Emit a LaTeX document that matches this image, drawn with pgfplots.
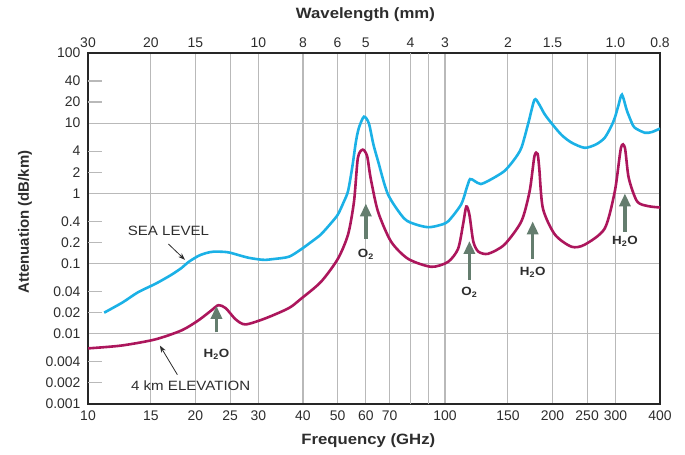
\documentclass[border=0pt]{standalone}
\usepackage{fontspec}
\setmainfont{Liberation Sans}[FakeStretch=1.12]
\newfontfamily\plainsans{Liberation Sans}
\usepackage{pgfplots}
\pgfplotsset{compat=1.18}
\usetikzlibrary{arrows.meta}
\definecolor{sea}{RGB}{27,177,230}
\definecolor{elev}{RGB}{172,22,92}
\definecolor{arr}{RGB}{100,125,110}
\definecolor{gridc}{RGB}{185,185,185}
\definecolor{txt}{RGB}{45,45,45}

\begin{document}
\begin{tikzpicture}
\begin{axis}[name=main,
  width=572bp, height=351bp, scale only axis,
  xmode=log, ymode=log,
  xmin=10, xmax=400, ymin=0.001, ymax=100,
  axis line style={line width=2.2bp, black!85},
  xtick={10,15,20,25,30,40,50,60,70,100,150,200,250,300,400},
  xticklabels={10,15,20,25,30,40,50,60,70,100,150,200,250,300,400},
  extra x ticks={80,90}, extra x tick labels={},
  ytick={0.001,0.01,0.1,1,10,100},
  yticklabels={0.001,0.01,0.1,1,10,100},
  extra y ticks={0.002,0.004,0.02,0.04,0.2,0.4,2,4,20,40},
  extra y tick labels={0.002,0.004,0.02,0.04,0.2,0.4,2,4,20,40},
  extra y tick style={grid=none, major tick length=14bp,
    tick style={gridc, line width=1.2bp}},
  xminorticks=false, yminorticks=false,
  grid=major, grid style={gridc, line width=1.1bp},
  xtick pos=bottom, ytick pos=left, tick align=inside,
  major tick length=0pt,
  tick label style={font=\plainsans\fontsize{14}{16}\selectfont, text=txt},
  xticklabel style={yshift=-3bp},
  yticklabel style={xshift=-4bp},
  every axis x label/.style={at={(axis description cs:0.49,-0.103)}, anchor=center,
    font=\fontsize{15}{17}\selectfont\bfseries, text=txt},
  every axis y label/.style={at={(axis description cs:-0.110,0.5185)}, rotate=90, anchor=center,
    font=\plainsans\fontsize{15}{17}\selectfont\bfseries, text=txt},
  xlabel={Frequency (GHz)},
  ylabel={Attenuation (dB/km)},
]
% sea level
\addplot[sea, line width=2.6bp, smooth, tension=0.45] coordinates {
(11.1,0.020) (12.5,0.028) (13.8,0.039) (15.5,0.052) (17.1,0.069) (18.3,0.087)
(19.1,0.105) (20.4,0.129) (21.5,0.142) (22.5,0.148) (24,0.147) (25,0.143)
(27,0.128) (28.2,0.121) (30,0.115) (31.4,0.113) (33,0.116) (36.5,0.125)
(39.4,0.158) (42,0.20) (44.9,0.26) (48,0.38) (50.1,0.50) (52,0.75) (53.5,1.08)
(55,2.4) (56.3,5.5) (57.4,8.65) (59.3,12.4) (61.2,9.9) (63,5.0) (64.9,2.9)
(69.2,0.97) (76.8,0.44) (83,0.36) (89.7,0.33) (96,0.35) (102,0.40) (111,0.70)
(115,1.2) (117.5,1.6) (121,1.5) (126,1.36) (135,1.6) (146.6,2.08) (156,3.0)
(163.6,4.46) (171,9.9) (178,21.5) (183,19) (190,13.5) (199,9.9) (212,6.8)
(226,5.3) (246,4.46) (265,5.0) (280,6.2) (292,9.0) (299,12) (306,18) (313,25.5)
(323,15.2) (333,10.3) (340,8.6) (363,7.3) (380,7.5) (400,8.4)
};
% 4 km elevation
\addplot[elev, line width=2.6bp, smooth, tension=0.45] coordinates {
(10,0.0062) (12.4,0.0068) (15.4,0.0083) (18.3,0.0112) (20.4,0.0156) (22.2,0.0217)
(23.2,0.0256) (24.3,0.0232) (25.9,0.0161) (27.6,0.0136) (31.4,0.0166) (36.5,0.0232)
(39.4,0.0312) (44.9,0.0548) (50.1,0.117) (53.5,0.26) (55.6,0.77) (57,3.2)
(58.8,4.2) (60.5,3.4) (61.9,1.65) (64.9,0.55) (70.6,0.206) (78.8,0.117)
(91.5,0.090) (102,0.106) (108.8,0.163) (112.3,0.36) (114.7,0.65) (117,0.50)
(120,0.206) (124,0.148) (132,0.138) (146.6,0.186) (163.6,0.40) (172.6,1.08)
(178,3.4) (181.6,3.66) (183.6,2.3) (188,0.61) (203,0.26) (226,0.174) (246,0.186)
(280,0.316) (299,1.08) (311,4.46) (319,4.46) (327,1.65) (345,0.77) (370,0.66) (400,0.63)
};
% annotations
\draw[arr, line width=3.5bp, -{Triangle[width=11bp,length=13bp]}] (axis cs:22.9,0.0105) -- (axis cs:22.9,0.025);
\draw[arr, line width=3.5bp, -{Triangle[width=11bp,length=13bp]}] (axis cs:60,0.227) -- (axis cs:60,0.72);
\draw[arr, line width=3.5bp, -{Triangle[width=11bp,length=13bp]}] (axis cs:117,0.058) -- (axis cs:117,0.21);
\draw[arr, line width=3.5bp, -{Triangle[width=11bp,length=13bp]}] (axis cs:176,0.117) -- (axis cs:176,0.40);
\draw[arr, line width=3.5bp, -{Triangle[width=11bp,length=13bp]}] (axis cs:319,0.286) -- (axis cs:319,1.0);
\begin{scope}[every node/.style={font=\fontsize{12}{14}\selectfont\bfseries, text=txt}]
\node at (axis cs:22.9,0.0051) {H\textsubscript{2}O};
\node at (axis cs:60,0.134) {O\textsubscript{2}};
\node at (axis cs:117,0.039) {O\textsubscript{2}};
\node at (axis cs:176,0.076) {H\textsubscript{2}O};
\node at (axis cs:319,0.206) {H\textsubscript{2}O};
\end{scope}
\node[font=\fontsize{13.5}{15}\selectfont, text=txt] at (axis cs:16.8,0.296) {SEA LEVEL};
\draw[txt, line width=0.8bp, -{Stealth[length=7bp,width=5bp]}] (axis cs:16.8,0.19) -- (axis cs:18.7,0.113);
\node[font=\fontsize{13.5}{15}\selectfont, text=txt] at (axis cs:19.4,0.00182) {4 km ELEVATION};
\draw[txt, line width=0.8bp, -{Stealth[length=7bp,width=5bp]}] (axis cs:17.8,0.00261) -- (axis cs:15.9,0.0068);
\end{axis}
\begin{axis}[
  width=572bp, height=351bp, scale only axis,
  xmode=log, ymode=log,
  xmin=10, xmax=400, ymin=0.001, ymax=100,
  axis x line*=top, axis y line=none,
  axis line style={draw=none},
  xtick={10,15,20,30,40,50,60,80,100,150,200,300,400},
  xticklabels={30,20,15,10,8,6,5,4,3,2,1.5,1.0,0.8},
  xminorticks=false, major tick length=0pt,
  tick label style={font=\plainsans\fontsize{14}{16}\selectfont, text=txt},
  xticklabel style={yshift=2bp},
  every axis x label/.style={at={(axis description cs:0.485,1.108)}, anchor=center,
    font=\fontsize{15}{17}\selectfont\bfseries, text=txt},
  xlabel={Wavelength (mm)},
]
\end{axis}
\pgfresetboundingbox
\path[use as bounding box] ([shift={(-88bp,-51bp)}]main.south west) rectangle ([shift={(25bp,53bp)}]main.north east);
\end{tikzpicture}
\end{document}
